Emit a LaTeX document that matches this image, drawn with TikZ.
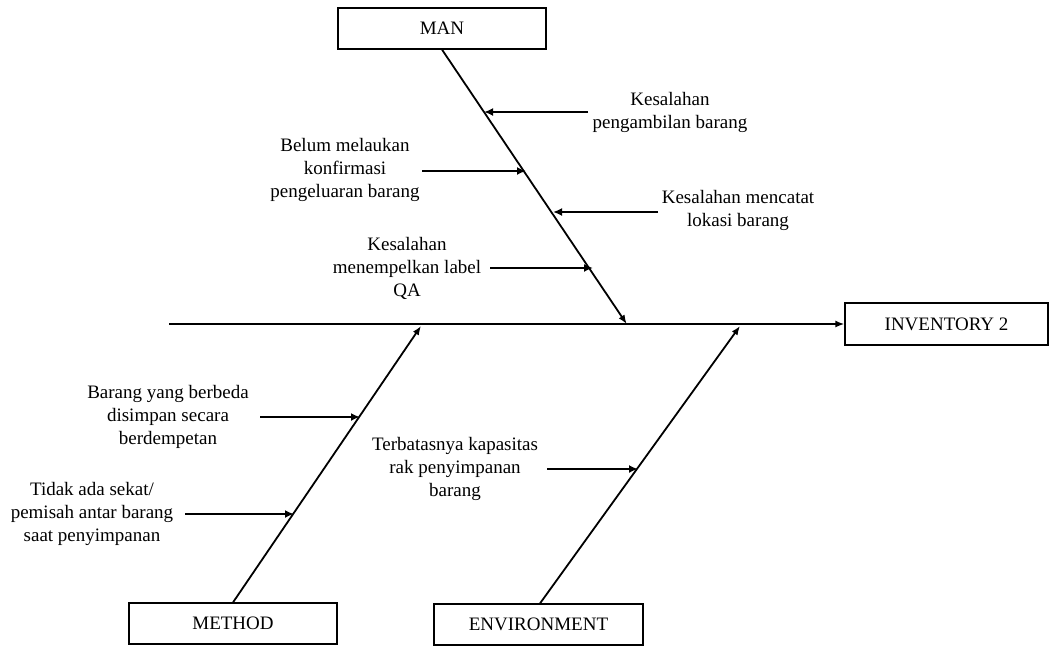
\documentclass[tikz,border=0pt]{standalone}
\usepackage{fontspec}
\setmainfont{Liberation Serif}
\usetikzlibrary{arrows.meta}
\begin{document}
\begin{tikzpicture}[x=1pt,y=-1pt,
  box/.style={draw,line width=1.2pt,minimum width=208pt,minimum height=41pt,inner sep=0pt,font=\fontsize{19}{23}\selectfont},
  lbl/.style={align=center,inner sep=0pt,font=\fontsize{19}{23}\selectfont},
  spine/.style={line width=1.8pt,-{Latex[length=9pt,width=7pt]}},
  cause/.style={line width=2.6pt,-{Latex[length=9pt,width=8pt]}}]
\useasboundingbox (0,0) rectangle (1051,646);
% boxes
\node[box] (man) at (442,28.5) {MAN};
\node[box,minimum width=203pt,minimum height=42pt] (inv) at (946.5,324) {INVENTORY 2};
\node[box] (method) at (233,623.5) {METHOD};
\node[box,minimum width=209pt] (env) at (538.5,624.5) {ENVIRONMENT};
% spines
\coordinate (tail) at (169,324);
\coordinate (manhead) at (626.7,324);
\coordinate (methhead) at (421,326);
\coordinate (envhead) at (740,326);
\draw[spine] (tail) -- (inv.west);
\draw[spine] (man.south) -- (manhead);
\draw[spine] (method.north) -- (methhead);
\draw[spine] (env.north -| 540,0) -- (envhead);
% MAN causes
\node[lbl] (m1) at (670,112.5) {Kesalahan\\pengambilan barang};
\node[lbl] (m2) at (345,170) {Belum melaukan\\konfirmasi\\pengeluaran barang};
\node[lbl] (m3) at (738,210.5) {Kesalahan mencatat\\lokasi barang};
\node[lbl] (m4) at (407,268) {Kesalahan\\menempelkan label\\QA};
\coordinate (m1s) at (588,112); \coordinate (m1e) at (484,112);
\coordinate (m2s) at (422,171); \coordinate (m2e) at (526,171);
\coordinate (m3s) at (658,212); \coordinate (m3e) at (553,212);
\coordinate (m4s) at (490,268); \coordinate (m4e) at (593,268);
\draw[cause] (m1s) -- (m1e);
\draw[cause] (m2s) -- (m2e);
\draw[cause] (m3s) -- (m3e);
\draw[cause] (m4s) -- (m4e);
% METHOD causes
\node[lbl] (d1) at (168,417) {Barang yang berbeda\\disimpan secara\\berdempetan};
\node[lbl] (d2) at (92,514) {Tidak ada sekat/\\pemisah antar barang\\saat penyimpanan};
\coordinate (d1s) at (260,417); \coordinate (d1e) at (360,417);
\coordinate (d2s) at (185,514); \coordinate (d2e) at (294,514);
\draw[cause] (d1s) -- (d1e);
\draw[cause] (d2s) -- (d2e);
% ENVIRONMENT cause
\node[lbl] (e1) at (455,469) {Terbatasnya kapasitas\\rak penyimpanan\\barang};
\coordinate (e1s) at (547,469); \coordinate (e1e) at (638,469);
\draw[cause] (e1s) -- (e1e);
\end{tikzpicture}
\end{document}
